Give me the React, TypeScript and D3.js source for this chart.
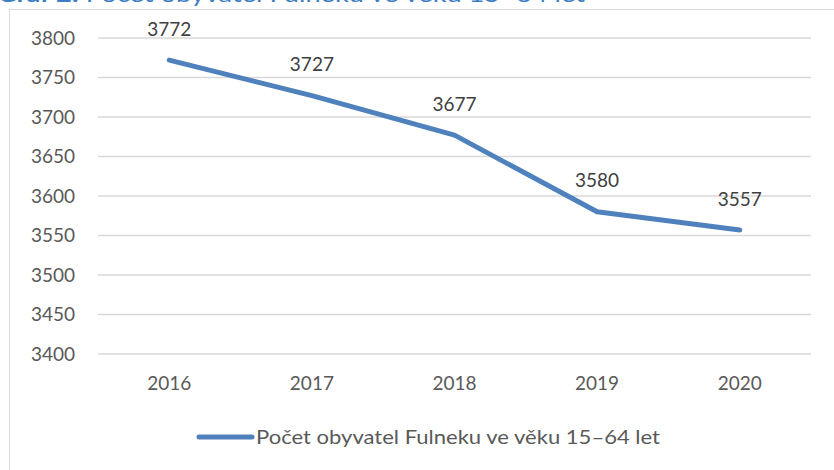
import React from 'react';
import * as d3 from 'd3';

const years = ['2016', '2017', '2018', '2019', '2020'];
const population = [3772, 3727, 3677, 3580, 3557];
const yTicks = [3400, 3450, 3500, 3550, 3600, 3650, 3700, 3750, 3800];
const seriesName = 'Počet obyvatel Fulneku ve věku 15–64 let';
const titleText = 'Počet obyvatel Fulneku ve věku 15–64 let';

const W = 834;
const H = 470;
const font = 'Lato, "Open Sans", sans-serif';
const textColor = '#595959';
const lineColor = '#4F81BD';

export default function App() {
  const x = d3.scaleBand<string>().domain(years).range([98, 811]);
  const y = d3.scaleLinear().domain([3400, 3800]).range([354, 38]);
  const cx = (d: string) => (x(d) as number) + x.bandwidth() / 2;

  const line = d3
    .line<number>()
    .x((_, i) => cx(years[i]))
    .y(d => y(d));

  return (
    <svg
      width={W}
      height={H}
      style={{position: 'absolute', left: 0, top: 0, background: '#fff'}}
      fontFamily={font}
    >
      {/* caption above the chart, cropped at the top like the source scan */}
      <text x={-3} y={2} fontSize={22} fill="#3C7DC4" textLength={588} lengthAdjust="spacingAndGlyphs">
        <tspan fontWeight="bold">Graf 2:</tspan> {titleText}
      </text>
      <rect x={9.5} y={9.5} width={W} height={H} fill="none" stroke="#D9D9D9" strokeWidth={1} />

      {yTicks.map(t => (
        <g key={t}>
          <line x1={98} x2={811} y1={y(t)} y2={y(t)} stroke="#D9D9D9" strokeWidth={1.5} />
          <text x={75} y={y(t)} dy="0.35em" textAnchor="end" fontSize={19} fill={textColor}>
            {t}
          </text>
        </g>
      ))}

      {years.map(yr => (
        <text key={yr} x={cx(yr)} y={383} dy="0.35em" textAnchor="middle" fontSize={19} fill={textColor}>
          {yr}
        </text>
      ))}

      <path
        d={line(population) || ''}
        fill="none"
        stroke={lineColor}
        strokeWidth={5}
        strokeLinecap="round"
        strokeLinejoin="round"
      />

      {population.map((v, i) => (
        <text
          key={i}
          x={cx(years[i])}
          y={y(v) - 31}
          dy="0.35em"
          textAnchor="middle"
          fontSize={19}
          fill="#404040"
        >
          {v}
        </text>
      ))}

      <line x1={199} x2={252} y1={437} y2={437} stroke={lineColor} strokeWidth={5} strokeLinecap="round" />
      <text
        x={256}
        y={437}
        dy="0.35em"
        fontSize={20}
        fill={textColor}
        textLength={404}
        lengthAdjust="spacingAndGlyphs"
      >
        {seriesName}
      </text>
    </svg>
  );
}
